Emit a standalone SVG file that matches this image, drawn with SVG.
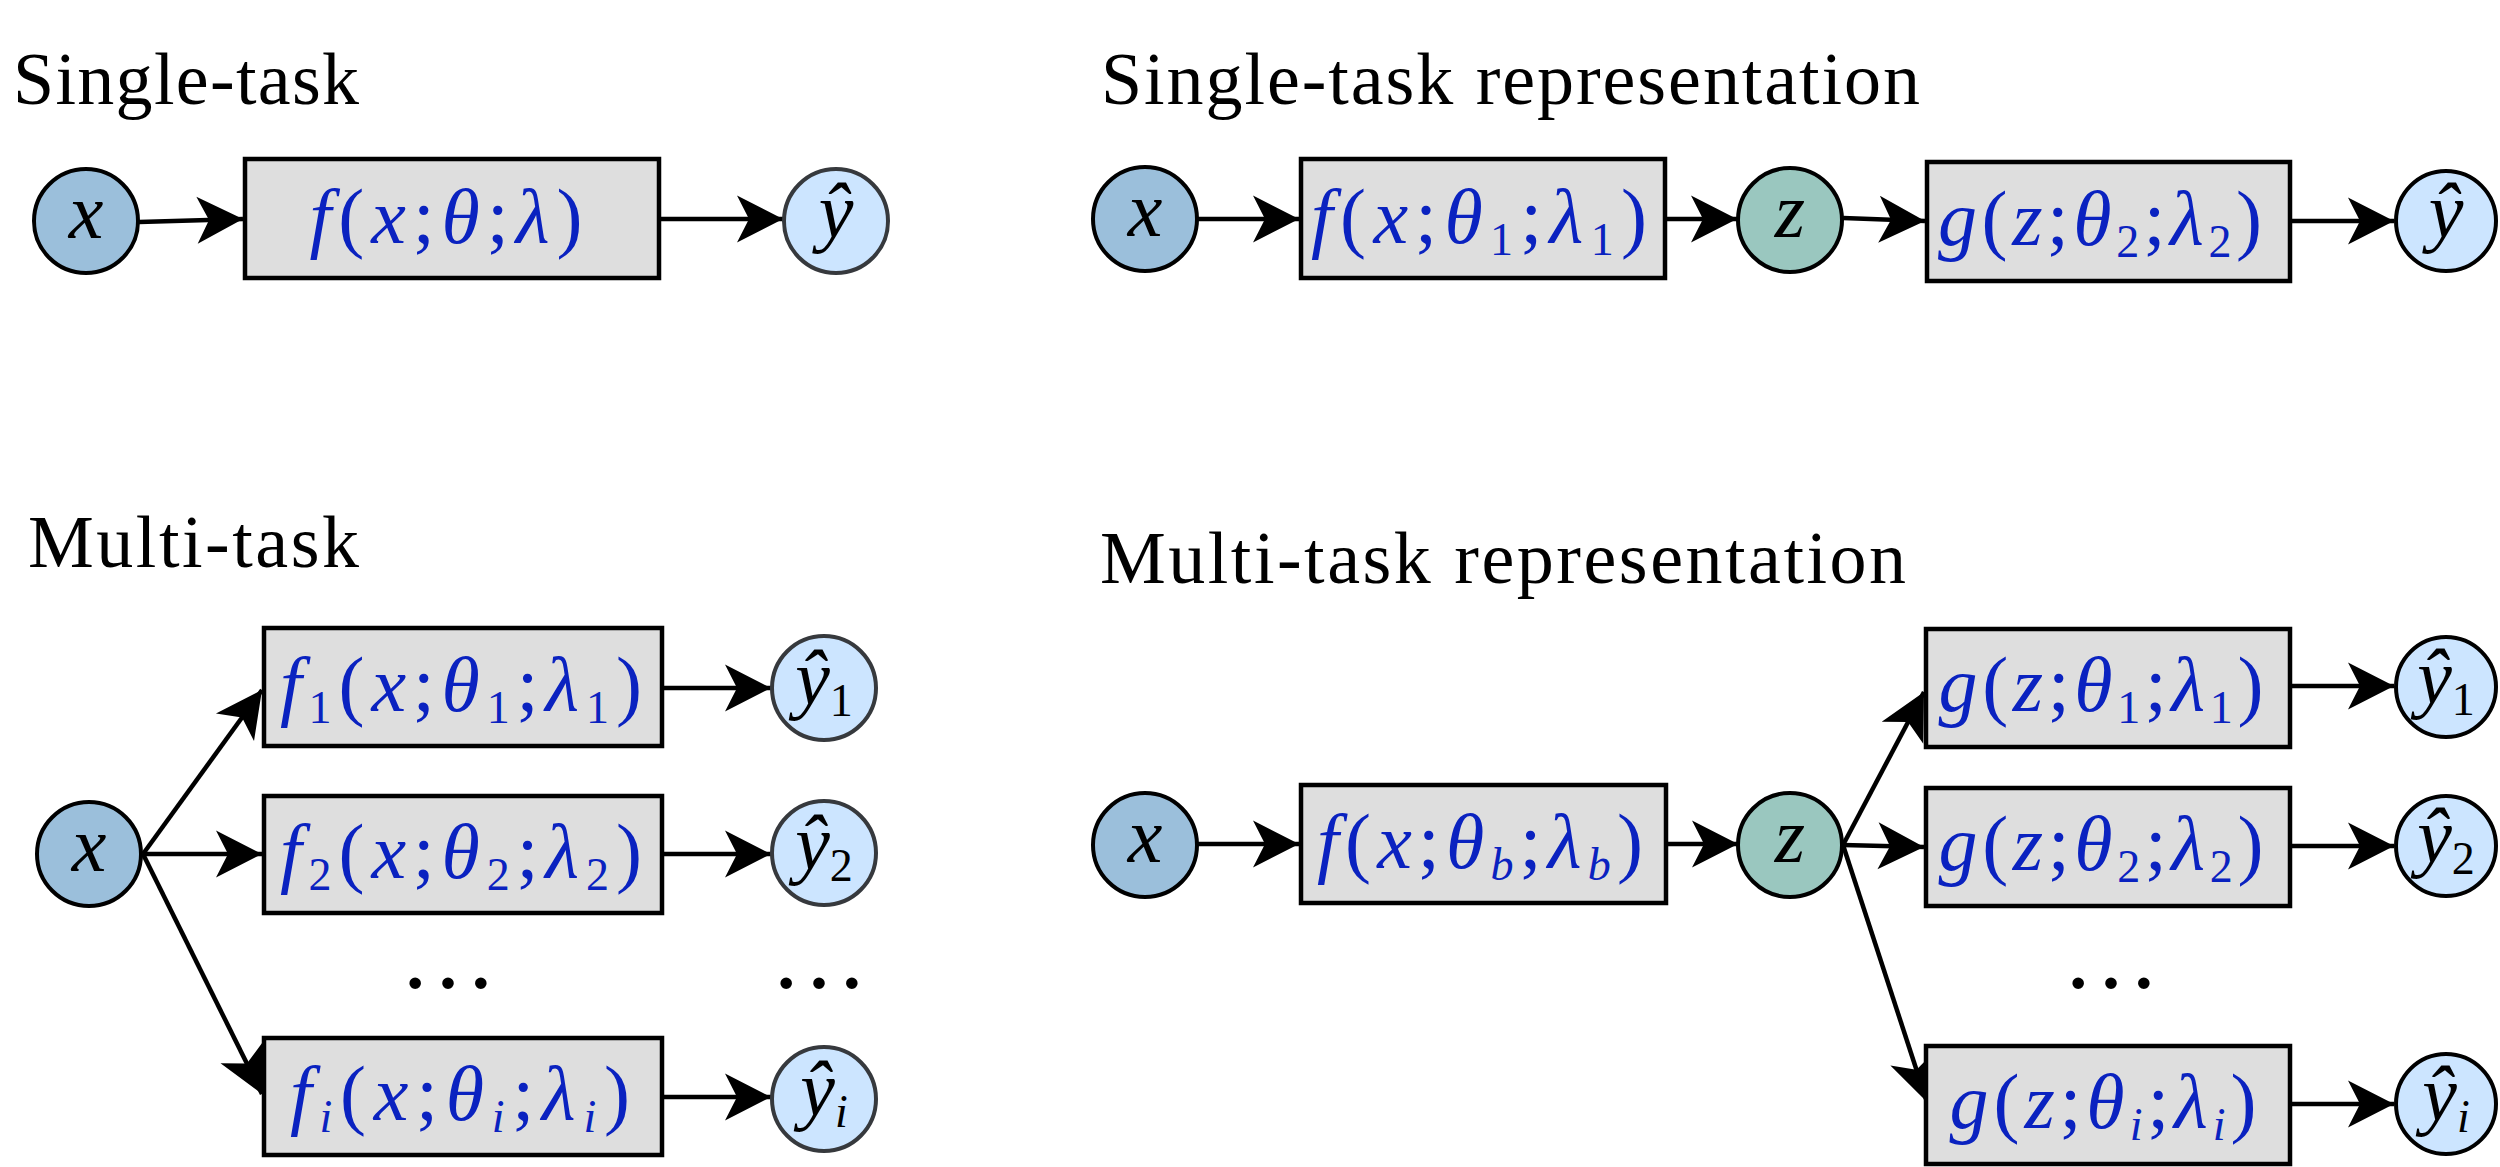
<svg xmlns="http://www.w3.org/2000/svg" width="2500" height="1167" viewBox="0 0 2500 1167">
<defs>
<style>
.t{font-family:"Liberation Serif",serif;font-size:74px;fill:#000}
.m{font-family:"Liberation Serif",serif;font-size:78px;font-style:italic;fill:#0A22C0;text-anchor:middle}
.n{font-style:normal}
.s{font-size:46px}
.lb{font-family:"Liberation Serif",serif;font-size:78px;font-style:italic;fill:#000;text-anchor:middle}
.box{fill:#DEDEDE;stroke:#000;stroke-width:4.5}
.nx{fill:#9BBFDB;stroke:#000;stroke-width:4}
.nz{fill:#9AC7BF;stroke:#000;stroke-width:4}
.ny{fill:#CCE5FF;stroke:#36393D;stroke-width:4}
.nyb{fill:#CCE5FF;stroke:#000;stroke-width:4}
.c{fill:none;stroke:#000;stroke-width:4.5;marker-end:url(#ah)}
.dots{font-family:"Liberation Serif",serif;font-size:98px;fill:#000;text-anchor:middle}
</style>
<marker id="ah" markerUnits="userSpaceOnUse" viewBox="0 0 48 48" markerWidth="48" markerHeight="48" refX="47" refY="24" orient="auto">
<path d="M1,0.5 L47,24 L1,47.5 L13,24 Z" fill="#000"/>
</marker>
</defs>
<rect width="2500" height="1167" fill="#fff"/>

<g id="titles">
<text class="t" x="13" y="104" textLength="346" lengthAdjust="spacing">Single-task</text>
<text class="t" x="1101" y="104" textLength="819" lengthAdjust="spacing">Single-task representation</text>
<text class="t" x="28" y="567" textLength="331" lengthAdjust="spacing">Multi-task</text>
<text class="t" x="1100" y="583" textLength="806" lengthAdjust="spacing">Multi-task representation</text>
</g>

<g id="connectors">
<path class="c" d="M139,222 L243,219"/>
<path class="c" d="M661,219 L783,219"/>
<path class="c" d="M1198,219 L1299,219"/>
<path class="c" d="M1667,219 L1737,219"/>
<path class="c" d="M1843,218 L1925,221"/>
<path class="c" d="M2292,221 L2394,221"/>
<path class="c" d="M143,854 L262,690"/>
<path class="c" d="M143,854 L262,854"/>
<path class="c" d="M143,854 L262,1094"/>
<path class="c" d="M664,688 L771,688"/>
<path class="c" d="M664,854 L771,854"/>
<path class="c" d="M664,1097 L771,1097"/>
<path class="c" d="M1198,844 L1299,844"/>
<path class="c" d="M1668,844 L1738,844"/>
<path class="c" d="M1843,845 L1924,692"/>
<path class="c" d="M1843,845 L1924,847"/>
<path class="c" d="M1843,845 L1927,1102"/>
<path class="c" d="M2292,686 L2394,686"/>
<path class="c" d="M2292,846 L2394,846"/>
<path class="c" d="M2292,1104 L2394,1104"/>
</g>

<!-- Single-task -->
<g id="st-x"><circle class="nx" cx="86" cy="221" r="52"/><text class="lb" x="86" y="238">x</text></g>
<g id="st-f"><rect class="box" x="245" y="159" width="414" height="119"/>
<text class="m" x="446" y="243" textLength="273" lengthAdjust="spacing">f<tspan class="n">(</tspan>x<tspan class="n">;</tspan>θ<tspan class="n">;</tspan>λ<tspan class="n">)</tspan></text></g>
<g id="st-y"><circle class="ny" cx="836" cy="221" r="52"/><text class="lb" x="836" y="237">ŷ</text></g>

<!-- Single-task representation -->
<g id="str-x"><circle class="nx" cx="1145" cy="219" r="52"/><text class="lb" x="1145" y="236">x</text></g>
<g id="str-f"><rect class="box" x="1301" y="159" width="364" height="119"/>
<text class="m" x="1479" y="243" textLength="336" lengthAdjust="spacing">f<tspan class="n">(</tspan>x<tspan class="n">;</tspan>θ<tspan class="n s" dy="12">1</tspan><tspan class="n" dy="-12">;</tspan>λ<tspan class="n s" dy="12">1</tspan><tspan class="n" dy="-12">)</tspan></text></g>
<g id="str-z"><circle class="nz" cx="1790" cy="220" r="52"/><text class="lb" x="1790" y="237">z</text></g>
<g id="str-g"><rect class="box" x="1927" y="162" width="363" height="119"/>
<text class="m" x="2100" y="245" textLength="324" lengthAdjust="spacing">g<tspan class="n">(</tspan>z<tspan class="n">;</tspan>θ<tspan class="n s" dy="12">2</tspan><tspan class="n" dy="-12">;</tspan>λ<tspan class="n s" dy="12">2</tspan><tspan class="n" dy="-12">)</tspan></text></g>
<g id="str-y"><circle class="nyb" cx="2446" cy="221" r="50"/><text class="lb" x="2446" y="237">ŷ</text></g>

<!-- Multi-task -->
<g id="mt-x"><circle class="nx" cx="89" cy="854" r="52"/><text class="lb" x="89" y="871">x</text></g>
<g id="mt-f1"><rect class="box" x="264" y="628" width="398" height="118"/>
<text class="m" x="461" y="711" textLength="362" lengthAdjust="spacing">f<tspan class="n s" dy="12">1</tspan><tspan class="n" dy="-12">(</tspan>x<tspan class="n">;</tspan>θ<tspan class="n s" dy="12">1</tspan><tspan class="n" dy="-12">;</tspan>λ<tspan class="n s" dy="12">1</tspan><tspan class="n" dy="-12">)</tspan></text></g>
<g id="mt-f2"><rect class="box" x="264" y="796" width="398" height="117"/>
<text class="m" x="461" y="878" textLength="362" lengthAdjust="spacing">f<tspan class="n s" dy="12">2</tspan><tspan class="n" dy="-12">(</tspan>x<tspan class="n">;</tspan>θ<tspan class="n s" dy="12">2</tspan><tspan class="n" dy="-12">;</tspan>λ<tspan class="n s" dy="12">2</tspan><tspan class="n" dy="-12">)</tspan></text></g>
<g id="mt-fi"><rect class="box" x="264" y="1038" width="398" height="117"/>
<text class="m" x="460" y="1120" textLength="340" lengthAdjust="spacing">f<tspan class="s" dy="12">i</tspan><tspan class="n" dy="-12">(</tspan>x<tspan class="n">;</tspan>θ<tspan class="s" dy="12">i</tspan><tspan class="n" dy="-12">;</tspan>λ<tspan class="s" dy="12">i</tspan><tspan class="n" dy="-12">)</tspan></text></g>
<g id="mt-y1"><circle class="ny" cx="824" cy="688" r="52"/><text class="lb" x="824" y="704">ŷ<tspan class="n s" dy="12">1</tspan></text></g>
<g id="mt-y2"><circle class="ny" cx="824" cy="853" r="52"/><text class="lb" x="824" y="869">ŷ<tspan class="n s" dy="12">2</tspan></text></g>
<g id="mt-yi"><circle class="ny" cx="824" cy="1099" r="52"/><text class="lb" x="824" y="1115">ŷ<tspan class="s" dy="12">i</tspan></text></g>
<text class="dots" x="448" y="988">…</text>
<text class="dots" x="819" y="988">…</text>

<!-- Multi-task representation -->
<g id="mtr-x"><circle class="nx" cx="1145" cy="845" r="52"/><text class="lb" x="1145" y="862">x</text></g>
<g id="mtr-f"><rect class="box" x="1301" y="785" width="365" height="118"/>
<text class="m" x="1480" y="868" textLength="326" lengthAdjust="spacing">f<tspan class="n">(</tspan>x<tspan class="n">;</tspan>θ<tspan class="s" dy="12">b</tspan><tspan class="n" dy="-12">;</tspan>λ<tspan class="s" dy="12">b</tspan><tspan class="n" dy="-12">)</tspan></text></g>
<g id="mtr-z"><circle class="nz" cx="1790" cy="845" r="52"/><text class="lb" x="1790" y="862">z</text></g>
<g id="mtr-g1"><rect class="box" x="1926" y="629" width="364" height="118"/>
<text class="m" x="2101" y="711" textLength="325" lengthAdjust="spacing">g<tspan class="n">(</tspan>z<tspan class="n">;</tspan>θ<tspan class="n s" dy="12">1</tspan><tspan class="n" dy="-12">;</tspan>λ<tspan class="n s" dy="12">1</tspan><tspan class="n" dy="-12">)</tspan></text></g>
<g id="mtr-g2"><rect class="box" x="1926" y="788" width="364" height="118"/>
<text class="m" x="2101" y="870" textLength="325" lengthAdjust="spacing">g<tspan class="n">(</tspan>z<tspan class="n">;</tspan>θ<tspan class="n s" dy="12">2</tspan><tspan class="n" dy="-12">;</tspan>λ<tspan class="n s" dy="12">2</tspan><tspan class="n" dy="-12">)</tspan></text></g>
<g id="mtr-gi"><rect class="box" x="1926" y="1046" width="364" height="118"/>
<text class="m" x="2103" y="1128" textLength="307" lengthAdjust="spacing">g<tspan class="n">(</tspan>z<tspan class="n">;</tspan>θ<tspan class="s" dy="12">i</tspan><tspan class="n" dy="-12">;</tspan>λ<tspan class="s" dy="12">i</tspan><tspan class="n" dy="-12">)</tspan></text></g>
<g id="mtr-y1"><circle class="nyb" cx="2446" cy="687" r="50"/><text class="lb" x="2446" y="703">ŷ<tspan class="n s" dy="12">1</tspan></text></g>
<g id="mtr-y2"><circle class="nyb" cx="2446" cy="846" r="50"/><text class="lb" x="2446" y="862">ŷ<tspan class="n s" dy="12">2</tspan></text></g>
<g id="mtr-yi"><circle class="nyb" cx="2446" cy="1104" r="50"/><text class="lb" x="2446" y="1120">ŷ<tspan class="s" dy="12">i</tspan></text></g>
<text class="dots" x="2111" y="988">…</text>
</svg>
